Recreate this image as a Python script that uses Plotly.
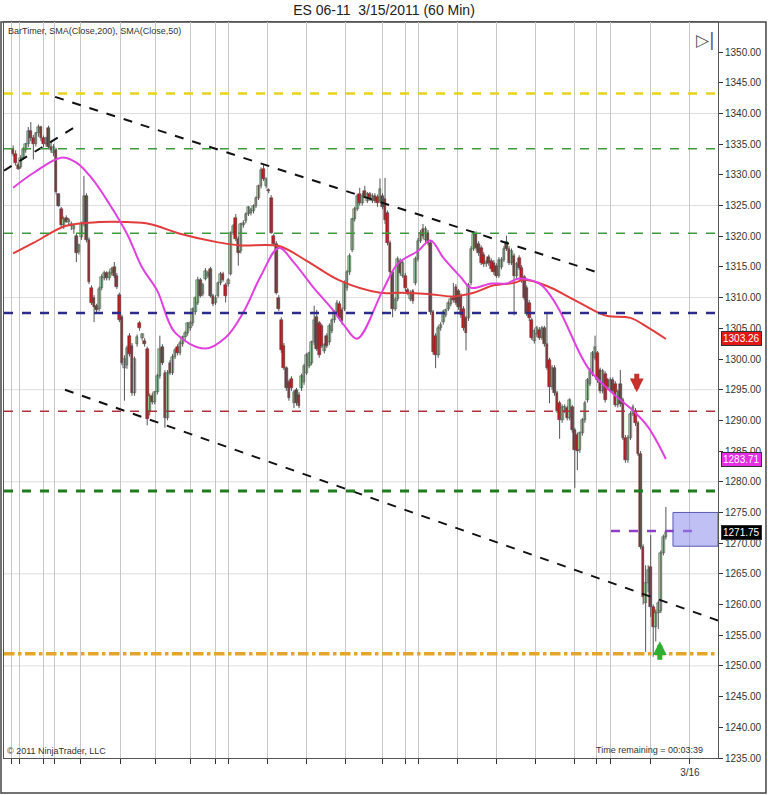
import plotly.graph_objects as go

# ---------------- data ----------------
opens = [
 1334.2,1333.4,1331.6,1331.2,1332.8,1334.0,1335.0,1337.2,1336.0,1335.0,
 1336.8,1337.8,1336.0,1335.0,1337.6,1334.6,1333.6,1334.0,1326.8,1324.4,
 1321.8,1323.0,1322.4,1321.6,1321.2,1320.0,1317.4,1319.8,1322.0,1326.6,
 1319.4,1311.6,1310.0,1308.6,1308.2,1311.6,1313.2,1314.0,1313.2,1314.0,
 1315.0,1313.6,1310.4,1306.8,1298.6,1299.0,1303.8,1302.2,1294.4,1302.4,
 1305.8,1303.4,1303.0,1301.6,1291.6,1294.0,1293.0,1294.6,1297.2,1302.0,
 1297.8,1290.4,1299.4,1297.8,1300.4,1302.0,1301.0,1302.4,1303.6,1304.2,
 1305.0,1305.8,1307.6,1309.2,1312.8,1310.6,1313.1,1313.6,1314.7,1310.3,
 1309.2,1310.3,1312.4,1313.9,1312.0,1312.2,1313.9,1320.6,1323.0,1319.6,
 1317.6,1321.8,1322.5,1323.7,1323.8,1324.1,1325.0,1326.3,1328.2,1331.0,
 1328.2,1327.6,1326.3,1320.1,1318.8,1310.0,1306.3,1302.2,1298.5,1296.2,
 1296.8,1292.9,1294.9,1294.2,1295.2,1296.2,1297.8,1298.9,1299.4,1302.7,
 1306.8,1305.8,1305.3,1301.3,1303.8,1302.7,1304.6,1306.3,1307.6,1309.0,
 1308.0,1308.2,1311.5,1314.1,1317.8,1322.8,1324.5,1326.9,1325.4,1327.4,
 1325.8,1326.8,1325.8,1326.6,1326.4,1325.8,1326.6,1326.0,1323.8,1318.9,
 1314.1,1308.2,1309.8,1316.0,1313.6,1313.6,1311.2,1309.8,1311.0,1312.4,
 1316.3,1319.3,1321.2,1319.4,1320.6,1318.9,1307.6,1303.8,1300.6,1305.0,
 1306.0,1307.2,1308.2,1309.0,1310.0,1311.8,1311.0,1310.3,1308.2,1306.6,
 1306.6,1312.4,1318.0,1320.4,1318.8,1318.1,1317.0,1315.4,1316.6,1316.0,
 1315.7,1315.2,1313.6,1315.0,1316.2,1319.0,1318.0,1315.7,1316.8,1313.6,
 1316.5,1314.9,1313.3,1311.6,1309.2,1306.3,1302.9,1304.0,1304.8,1303.5,
 1305.0,1302.4,1299.8,1295.4,1298.6,1294.4,1292.8,1290.0,1291.6,1292.0,
 1290.4,1292.1,1288.4,1287.6,1285.1,1287.9,1290.0,1293.3,1296.0,1297.6,
 1300.2,1300.9,1298.2,1294.8,1297.6,1296.5,1295.0,1296.6,1296.0,1292.5,
 1295.9,1293.3,1287.2,1283.5,1287.2,1291.1,1291.6,1289.5,1284.6,1269.4,
 1260.2,1263.5,1266.1,1259.6,1256.3,1258.6,1259.0,1268.4,1271.0]
highs = [
 1334.8,1334.0,1332.0,1333.2,1334.5,1335.2,1337.8,1338.6,1336.5,1337.0,
 1338.2,1338.0,1336.4,1336.2,1338.0,1335.4,1335.0,1334.4,1327.0,1324.8,
 1323.2,1323.4,1323.0,1322.4,1321.8,1320.4,1318.8,1322.4,1329.8,1327.0,
 1319.8,1312.0,1310.4,1309.0,1311.8,1313.8,1314.4,1314.3,1314.4,1315.0,
 1315.8,1314.0,1310.8,1307.2,1300.6,1302.2,1304.2,1302.6,1300.4,1304.0,
 1306.2,1304.2,1303.4,1302.0,1294.4,1294.4,1294.8,1297.6,1303.8,1302.4,
 1298.2,1298.2,1299.8,1300.8,1301.8,1302.4,1303.0,1303.8,1304.6,1306.0,
 1306.2,1308.4,1310.2,1313.4,1313.2,1312.4,1314.8,1314.4,1315.0,1310.6,
 1310.4,1312.6,1314.2,1314.2,1312.4,1313.2,1320.8,1322.0,1323.6,1320.0,
 1322.2,1322.6,1323.9,1324.9,1324.6,1325.2,1326.5,1328.4,1331.2,1331.6,
 1329.6,1327.8,1326.7,1320.4,1319.2,1310.4,1306.8,1302.6,1298.8,1296.6,
 1297.2,1294.9,1295.3,1294.6,1297.6,1299.2,1301.0,1301.2,1303.0,1308.7,
 1308.0,1306.2,1305.7,1302.6,1304.2,1305.8,1306.6,1308.0,1309.6,1309.4,
 1308.4,1312.8,1314.5,1317.2,1323.0,1324.8,1326.9,1327.9,1327.0,1328.2,
 1327.2,1327.2,1327.0,1327.0,1326.8,1329.4,1327.0,1329.5,1324.2,1319.3,
 1314.5,1310.0,1316.7,1316.4,1316.0,1314.0,1311.6,1311.2,1311.4,1316.7,
 1319.7,1321.0,1322.0,1321.6,1321.0,1319.3,1308.0,1304.2,1305.4,1306.0,
 1308.0,1308.2,1309.4,1310.2,1312.4,1312.2,1311.4,1310.7,1308.6,1307.0,
 1312.4,1318.4,1320.8,1320.8,1319.2,1318.5,1317.4,1316.2,1317.0,1316.4,
 1316.1,1315.6,1316.6,1316.6,1318.4,1320.1,1318.4,1318.0,1317.2,1315.8,
 1316.9,1315.3,1313.7,1312.0,1309.6,1306.7,1304.8,1305.4,1305.2,1305.4,
 1305.4,1307.5,1300.2,1299.0,1299.0,1294.8,1293.2,1292.6,1292.6,1292.4,
 1293.6,1292.5,1288.8,1288.0,1288.2,1290.4,1293.2,1296.9,1298.5,1301.3,
 1303.8,1301.3,1298.6,1298.4,1298.0,1296.9,1297.0,1297.0,1296.4,1295.0,
 1298.2,1293.7,1287.6,1287.6,1291.5,1292.6,1292.0,1289.9,1285.0,1269.8,
 1266.4,1266.4,1271.3,1260.0,1259.2,1260.6,1268.8,1271.4,1275.9]
lows = [
 1333.0,1331.5,1330.8,1331.0,1332.5,1333.6,1334.5,1335.5,1332.5,1334.6,
 1336.2,1335.5,1334.5,1334.6,1334.2,1333.6,1333.0,1326.8,1324.8,1321.4,
 1321.2,1322.2,1321.8,1321.0,1320.4,1315.8,1317.0,1319.4,1321.6,1319.0,
 1312.2,1308.8,1306.0,1307.6,1307.8,1311.2,1312.8,1312.8,1312.8,1313.6,
 1313.2,1311.4,1306.0,1299.0,1293.2,1298.4,1300.4,1294.0,1294.0,1302.0,
 1304.6,1303.0,1302.0,1289.2,1290.8,1292.6,1292.6,1294.2,1296.8,1299.0,
 1288.8,1290.0,1297.4,1297.4,1300.0,1300.6,1300.6,1302.0,1303.0,1303.8,
 1304.6,1305.4,1307.2,1308.8,1310.0,1310.2,1312.8,1313.2,1310.0,1308.6,
 1308.8,1310.0,1312.0,1312.6,1309.2,1311.8,1313.6,1320.2,1319.2,1315.2,
 1317.2,1321.4,1322.1,1323.3,1323.4,1323.7,1324.6,1325.9,1327.8,1329.0,
 1327.8,1327.0,1320.4,1318.5,1310.5,1307.8,1301.0,1298.2,1294.8,1293.2,
 1294.8,1292.0,1292.4,1292.0,1294.8,1295.8,1297.4,1298.5,1299.0,1302.3,
 1301.3,1300.2,1301.8,1300.9,1301.8,1302.3,1304.2,1305.9,1307.2,1306.2,
 1305.6,1307.8,1311.1,1313.7,1317.4,1322.4,1324.1,1325.0,1325.0,1326.2,
 1325.4,1325.8,1325.4,1325.4,1324.8,1325.4,1324.4,1322.0,1318.5,1313.7,
 1306.8,1307.8,1309.4,1313.6,1313.2,1311.1,1310.4,1309.4,1309.0,1312.0,
 1315.9,1318.9,1319.6,1319.0,1318.5,1307.2,1300.7,1298.5,1300.2,1304.6,
 1305.6,1306.8,1307.8,1308.6,1309.2,1308.8,1308.0,1306.7,1304.6,1301.4,
 1306.2,1312.0,1317.6,1317.7,1316.8,1315.3,1315.0,1315.0,1315.2,1314.2,
 1313.7,1313.2,1313.2,1314.6,1315.8,1317.6,1315.3,1315.3,1307.1,1313.2,
 1314.5,1312.4,1309.6,1307.0,1306.2,1303.1,1302.5,1303.6,1303.1,1303.1,
 1302.0,1298.2,1292.8,1295.0,1294.0,1291.2,1287.0,1289.6,1291.2,1290.0,
 1290.0,1288.0,1279.0,1281.9,1284.7,1287.5,1289.6,1292.9,1295.6,1297.2,
 1299.8,1296.1,1294.4,1294.4,1292.9,1295.0,1294.6,1294.4,1292.2,1292.1,
 1292.2,1286.8,1283.1,1283.1,1286.8,1290.7,1289.1,1284.2,1269.0,1260.0,
 1252.3,1262.0,1258.0,1251.5,1254.0,1256.0,1258.6,1268.0,1270.6]
closes = [
 1333.4,1332.0,1331.0,1332.8,1334.2,1335.0,1337.2,1336.0,1335.0,1336.8,
 1337.8,1336.0,1335.0,1336.0,1334.6,1334.0,1334.6,1327.2,1325.0,1321.8,
 1322.8,1322.4,1322.6,1322.0,1321.6,1317.2,1318.6,1322.0,1326.6,1319.4,
 1312.6,1309.2,1308.4,1308.0,1311.4,1313.4,1314.0,1313.2,1314.0,1314.6,
 1313.6,1311.8,1306.4,1299.4,1300.0,1301.8,1300.8,1294.4,1300.0,1303.6,
 1305.0,1304.0,1302.4,1290.2,1294.0,1293.0,1294.6,1297.2,1301.6,1299.4,
 1290.4,1297.8,1297.8,1300.4,1301.4,1301.0,1302.6,1303.6,1304.2,1305.8,
 1305.8,1308.2,1309.9,1312.8,1310.3,1312.0,1314.4,1314.0,1310.3,1309.0,
 1310.0,1312.4,1313.9,1312.9,1310.3,1312.8,1320.6,1321.7,1319.6,1317.3,
 1322.0,1322.2,1323.7,1324.7,1324.3,1325.0,1326.3,1328.2,1330.8,1329.4,
 1329.3,1327.3,1320.6,1318.8,1310.8,1308.2,1301.4,1298.5,1295.2,1293.6,
 1295.2,1294.6,1292.8,1292.4,1297.3,1298.9,1300.6,1300.9,1302.7,1306.3,
 1301.7,1300.6,1302.2,1302.3,1302.2,1305.4,1306.3,1307.6,1309.2,1306.6,
 1306.2,1312.4,1314.1,1316.8,1322.8,1324.5,1326.6,1325.4,1326.6,1326.6,
 1326.8,1326.2,1326.6,1325.8,1325.4,1327.7,1324.8,1322.6,1318.9,1314.1,
 1308.2,1309.6,1316.3,1314.0,1315.6,1311.5,1310.8,1310.8,1309.4,1316.3,
 1319.3,1320.6,1320.0,1321.2,1318.9,1307.6,1301.1,1300.6,1305.0,1305.6,
 1307.6,1308.0,1309.2,1309.8,1309.6,1309.2,1308.4,1307.1,1305.0,1304.3,
 1312.0,1318.0,1320.4,1318.1,1317.2,1315.7,1315.4,1315.8,1315.6,1314.6,
 1314.1,1313.6,1316.2,1316.2,1318.0,1318.0,1315.7,1317.6,1313.6,1315.4,
 1314.9,1312.8,1310.0,1307.4,1306.6,1303.5,1304.5,1305.0,1303.5,1305.1,
 1302.4,1298.6,1295.4,1298.6,1294.4,1291.6,1290.0,1292.2,1292.2,1290.4,
 1293.3,1288.4,1285.1,1285.0,1287.9,1290.0,1292.8,1296.5,1298.1,1300.9,
 1301.9,1296.5,1294.8,1298.0,1293.3,1295.4,1296.6,1294.8,1292.5,1294.6,
 1292.6,1287.2,1283.5,1287.2,1291.1,1292.2,1289.5,1284.6,1269.4,1261.2,
 1263.5,1265.6,1259.6,1256.3,1258.6,1260.2,1268.4,1271.0,1271.75]
bars = list(range(len(closes)))

sma200_bars = [0, 8, 21, 34, 45, 54, 66, 81, 90, 105, 116, 129, 145, 153, 164, 174,
               182, 190, 198, 202, 211, 221, 231, 235, 244, 251, 258]
sma200_vals = [1317.2, 1318.9, 1321.7, 1322.3, 1322.3, 1322.0, 1320.4, 1319.0, 1318.5,
               1318.4, 1316.0, 1312.8, 1310.8, 1310.8, 1310.6, 1310.2, 1310.8, 1312.0,
               1312.4, 1312.9, 1311.9, 1309.8, 1307.6, 1307.0, 1306.7, 1305.1, 1303.26]
sma50_bars = [0, 8, 19, 25, 31, 38, 45, 51, 57, 64, 76, 84, 91, 98, 105, 111, 119, 126,
              131, 136, 146, 152, 160, 165, 170, 177, 181, 189, 195, 200, 208, 211, 216,
              224, 228, 237, 245, 251, 258]
sma50_vals = [1327.9, 1330.3, 1332.8, 1332.0, 1329.5, 1325.3, 1320.4, 1314.9, 1311.1,
              1304.3, 1301.7, 1303.5, 1307.6, 1313.6, 1318.1, 1315.7, 1311.5, 1308.2,
              1305.4, 1303.3, 1311.1, 1315.5, 1317.6, 1319.3, 1316.5, 1313.3, 1311.6,
              1312.3, 1312.3, 1313.1, 1312.3, 1311.1, 1307.9, 1300.9, 1298.1, 1294.4,
              1291.6, 1288.9, 1283.71]

# drawn trend lines (start/end bar, start/end price)
trend_bars = [[-3.6, 25.3], [16.6, 230.3], [20.5, 278.6]]
trend_prices = [[1330.7, 1338.0], [1342.7, 1314.2], [1295.0, 1257.4]]

# horizontal levels
level_prices = [1343.25, 1334.25, 1320.5, 1307.5, 1291.5, 1278.5, 1252.0]
grid_prices = [1250, 1265, 1280, 1295, 1310, 1325, 1340]
target_bars = [236.3, 271.5]
target_price = 1272.0
zone_bars = [260.8, 278.6]
zone_prices = [1269.5, 1275.0]
down_signal = (246.5, 1294.6)
up_signal = (255.6, 1254.0)

tag_values = [1303.26, 1283.71, 1271.75]
tick_bars = [-0.8, 2.4, 12.2, 16.2, 26.5, 42.3, 56.1, 70.3, 79.8, 85.3, 100.4, 115.8,
             131.2, 145.8, 154.9, 160.4, 175.8, 191.2, 206.6, 222.0, 230.7, 236.3,
             252.1, 267.5]
tick_text = [""] * (len(tick_bars) - 1) + ["3/16"]

# ---------------- styling ----------------
FONT = "Liberation Sans"
UP_FILL, DOWN_FILL, OUTLINE = "#9fd49f", "#c8141a", "#3a3a3a"
level_styles = [
    dict(color="#e6d21a", width=2.5, dash="dash"),
    dict(color="#3f9a3f", width=1.5, dash="dash"),
    dict(color="#3f9a3f", width=1.5, dash="dash"),
    dict(color="#2b2b8c", width=2.5, dash="dash"),
    dict(color="#b0303c", width=1.5, dash="dash"),
    dict(color="#1f7d1f", width=3, dash="dash"),
    dict(color="#e3a52a", width=3.5, dash="dashdot"),
]
tag_colors = ["#e01818", "#e52ee5", "#000000"]

# candle geometry built from the OHLC lists
wick_x, wick_y = [], []
for b, lo, hi in zip(bars, lows, highs):
    wick_x += [b, b, None]
    wick_y += [lo, hi, None]
body_base = [min(o, c) for o, c in zip(opens, closes)]
body_h = [max(abs(c - o), 0.25) for o, c in zip(opens, closes)]
body_col = [UP_FILL if c >= o else DOWN_FILL for o, c in zip(opens, closes)]

fig = go.Figure()
fig.add_trace(go.Scatter(x=wick_x, y=wick_y, mode="lines",
                         line=dict(color="#555555", width=1),
                         showlegend=False, hoverinfo="skip"))
fig.add_trace(go.Bar(x=bars, y=body_h, base=body_base, width=1.08,
                     marker=dict(color=body_col, line=dict(color=OUTLINE, width=0.5)),
                     showlegend=False, hoverinfo="skip"))

fig.add_trace(go.Scatter(x=sma200_bars, y=sma200_vals, mode="lines",
                         line=dict(color="#e23b3b", width=2, shape="spline", smoothing=1.0),
                         showlegend=False, hoverinfo="skip"))
fig.add_trace(go.Scatter(x=sma50_bars, y=sma50_vals, mode="lines",
                         line=dict(color="#e040e0", width=2, shape="spline", smoothing=1.0),
                         showlegend=False, hoverinfo="skip"))

for tb, tp in zip(trend_bars, trend_prices):
    fig.add_trace(go.Scatter(x=tb, y=tp, mode="lines",
                             line=dict(color="#111111", width=2, dash="dash"),
                             showlegend=False, hoverinfo="skip"))

fig.add_trace(go.Scatter(x=target_bars, y=[target_price, target_price], mode="lines",
                         line=dict(color="#8e3fc8", width=2.5, dash="dash"),
                         showlegend=False, hoverinfo="skip"))

shapes = []
for gp in grid_prices:
    shapes.append(dict(type="line", xref="paper", x0=0, x1=1, yref="y", y0=gp, y1=gp,
                       line=dict(color="#dedede", width=1), layer="below"))
for lp, st in zip(level_prices, level_styles):
    shapes.append(dict(type="line", xref="paper", x0=0, x1=1, yref="y", y0=lp, y1=lp,
                       line=st, layer="above"))
shapes.append(dict(type="rect", xref="x", yref="y", x0=zone_bars[0], x1=zone_bars[1],
                   y0=zone_prices[0], y1=zone_prices[1],
                   fillcolor="rgba(140,140,235,0.55)", line=dict(color="#5a5ab4", width=1)))
# outer frame
shapes.append(dict(type="rect", xref="paper", yref="paper", x0=-0.0042, x1=1.0672,
                   y0=-0.0476, y1=1.0, line=dict(color="#444444", width=1.5), layer="below"))
fig.update_layout(shapes=shapes)

ann = []
ann.append(dict(text="BarTimer, SMA(Close,200), SMA(Close,50)", xref="paper", yref="paper",
                x=0.003, y=0.988, xanchor="left", yanchor="middle", showarrow=False,
                font=dict(family=FONT, size=9, color="#333333")))
ann.append(dict(text="© 2011 NinjaTrader, LLC", xref="paper", yref="paper",
                x=0.002, y=0.009, xanchor="left", yanchor="middle", showarrow=False,
                font=dict(family=FONT, size=9, color="#333333")))
ann.append(dict(text="Time remaining = 00:03:39", xref="paper", yref="paper",
                x=0.982, y=0.011, xanchor="right", yanchor="middle", showarrow=False,
                font=dict(family=FONT, size=9, color="#333333")))
ann.append(dict(text="▷|", xref="paper", yref="paper", x=0.982, y=0.975,
                xanchor="center", yanchor="middle", showarrow=False,
                font=dict(family="DejaVu Sans", size=17, color="#555555")))
for v, c in zip(tag_values, tag_colors):
    ann.append(dict(text="%.2f" % v, xref="paper", yref="y", x=1.004, y=v,
                    xanchor="left", yanchor="middle", showarrow=False,
                    bgcolor=c, bordercolor="#333333", borderwidth=1, borderpad=1,
                    font=dict(family=FONT, size=10, color="#ffffff")))
ann.append(dict(x=down_signal[0], y=down_signal[1], xref="x", yref="y", ax=0, ay=-20,
                showarrow=True, arrowhead=2, arrowsize=0.55, arrowwidth=5,
                arrowcolor="#c8302c", text=""))
ann.append(dict(x=up_signal[0], y=up_signal[1], xref="x", yref="y", ax=0, ay=20,
                showarrow=True, arrowhead=2, arrowsize=0.55, arrowwidth=5,
                arrowcolor="#2fae2f", text=""))
fig.update_layout(annotations=ann)

fig.update_layout(
    width=768, height=795,
    margin=dict(l=4, r=50, t=22, b=37),
    paper_bgcolor="white", plot_bgcolor="white",
    barmode="overlay", bargap=0,
    title=dict(text="ES 06-11\u00a0\u00a03/15/2011 (60 Min)", x=0.5, xanchor="center",
               y=0.987, yanchor="middle", font=dict(family=FONT, size=14, color="#222222")),
    font=dict(family=FONT, size=10, color="#333333"),
    xaxis=dict(range=[-3.6, 278.6],
               tickmode="array", tickvals=tick_bars, ticktext=tick_text,
               showgrid=True, gridcolor="#c8c8c8", gridwidth=1, zeroline=False,
               showline=True, linecolor="#555555", linewidth=1, mirror=True,
               ticks="outside", ticklen=5, tickcolor="#333333",
               tickfont=dict(family=FONT, size=10, color="#333333")),
    yaxis=dict(side="right", range=[1235, 1354.9], tick0=1235, dtick=5,
               tickformat=".2f", showgrid=False, zeroline=False,
               showline=True, linecolor="#555555", linewidth=1, mirror=True,
               ticks="outside", ticklen=4, tickcolor="#333333",
               tickfont=dict(family=FONT, size=10, color="#333333")),
)

fig.write_html("out.html", config={"displayModeBar": False},
               post_script="document.body.style.margin='0';document.body.style.overflow='hidden';")
